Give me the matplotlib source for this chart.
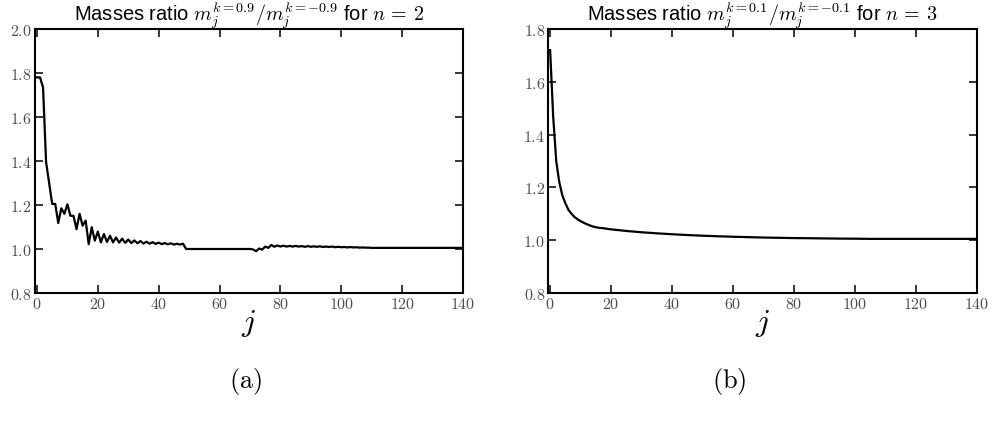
import matplotlib
matplotlib.use("Agg")
import matplotlib.pyplot as plt
from matplotlib.ticker import FuncFormatter, MultipleLocator

plt.rcParams['mathtext.fontset'] = 'cm'
plt.rcParams['font.family'] = ['Liberation Sans', 'DejaVu Sans']

# ---- data: panel (a), n = 2, k = +/-0.9 ----
j_a = list(range(0, 49)) + [49, 70] + list(range(71, 111)) + [140]
ratio_a = [
    1.78, 1.78, 1.735, 1.395, 1.30, 1.205, 1.205, 1.118, 1.185, 1.16,
    1.203, 1.151, 1.151, 1.09, 1.16, 1.106, 1.129, 1.022, 1.099, 1.038,
    1.079,
    1.030, 1.068, 1.032, 1.060, 1.030, 1.052, 1.029, 1.047, 1.028, 1.043,
    1.027, 1.039, 1.026, 1.036, 1.025, 1.033, 1.024, 1.031, 1.023, 1.029,
    1.022, 1.027, 1.021, 1.026, 1.020, 1.024, 1.020, 1.024,
    1.000, 1.000,
    0.998, 0.990, 1.002, 0.997, 1.011, 1.005, 1.018, 1.010, 1.016, 1.011,
    1.015, 1.011, 1.014, 1.011, 1.014, 1.011, 1.013, 1.010, 1.013, 1.010,
    1.012, 1.010, 1.012, 1.009, 1.011, 1.009, 1.011, 1.008, 1.010, 1.008,
    1.009, 1.007, 1.009, 1.007, 1.008, 1.006, 1.007, 1.006, 1.006, 1.005,
    1.005,
]

# ---- data: panel (b), n = 3, k = +/-0.1 ----
j_b = [0, 1, 2, 3, 4, 5, 6, 7, 8, 9, 10, 11, 12, 13, 14, 15, 16, 17,
       20, 25, 30, 35, 40, 45, 50, 55, 60, 65, 70, 75, 80, 85, 90, 95,
       100, 105, 140]
ratio_b = [1.72, 1.47, 1.30, 1.22, 1.17, 1.14, 1.115, 1.10, 1.088, 1.079,
           1.072, 1.066, 1.061, 1.056, 1.052, 1.049, 1.047, 1.046,
           1.041, 1.035, 1.030, 1.026, 1.0225, 1.0195, 1.017, 1.0148,
           1.013, 1.0115, 1.010, 1.009, 1.008, 1.0074, 1.0067, 1.006,
           1.0056, 1.005, 1.005]

titles = [r"Masses ratio $m_j^{k{=}0.9}/m_j^{k{=}{-}0.9}$ for $n\,=\,2$",
          r"Masses ratio $m_j^{k{=}0.1}/m_j^{k{=}{-}0.1}$ for $n\,=\,3$"]
captions = [r"$\mathrm{(a)}$", r"$\mathrm{(b)}$"]

fig = plt.figure(figsize=(9.92, 4.31), dpi=100)
ax_a = fig.add_axes([0.0348, 0.3179, 0.432, 0.6125])
ax_b = fig.add_axes([0.5524, 0.3179, 0.4325, 0.6125])

panels = [
    (ax_a, j_a, ratio_a, (-0.8, 140), (0.8, 2.0), titles[0]),
    (ax_b, j_b, ratio_b, (-0.7, 140), (0.8, 1.8), titles[1]),
]

for ax, x, y, xl, yl, t in panels:
    ax.plot(x, y, color='black', lw=1.6)
    ax.set_xlim(*xl)
    ax.set_ylim(*yl)
    ax.xaxis.set_major_locator(MultipleLocator(20))
    ax.yaxis.set_major_locator(MultipleLocator(0.2))
    ax.xaxis.set_major_formatter(FuncFormatter(lambda v, p: f"${int(round(v))}$"))
    ax.yaxis.set_major_formatter(FuncFormatter(lambda v, p: f"${v:.1f}$"))
    ax.tick_params(direction='in', top=True, right=True, length=6, width=1.1,
                   labelsize=11.5, labelcolor='#4d4d4d', pad=2)
    for s in ax.spines.values():
        s.set_linewidth(1.5)
    ax.set_title(t, fontsize=14.5, pad=6.5)
    ax.set_xlabel(r"$j$", fontsize=23, labelpad=-3)

fig.text(0.248, 0.115, captions[0], fontsize=19, ha='center', va='center')
fig.text(0.735, 0.115, captions[1], fontsize=19, ha='center', va='center')

fig.savefig("out.png", dpi=100)
